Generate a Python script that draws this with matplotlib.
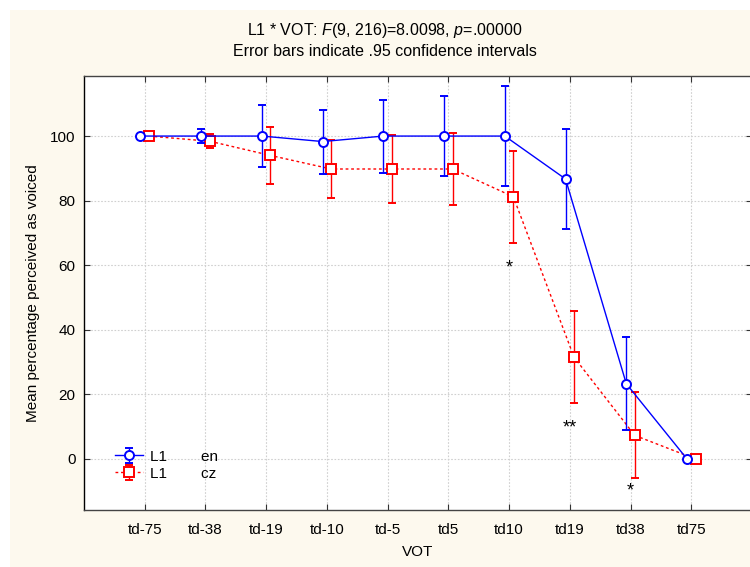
import numpy as np
import matplotlib
matplotlib.use("Agg")
from matplotlib import pyplot as plt
from matplotlib import patches

plt.rcParams['font.family'] = ['Liberation Sans', 'DejaVu Sans']
plt.rcParams['mathtext.fontset'] = 'custom'
plt.rcParams['mathtext.rm'] = 'Liberation Sans'
plt.rcParams['mathtext.it'] = 'Liberation Sans:italic'

# data
vot = ['td-75', 'td-38', 'td-19', 'td-10', 'td-5', 'td5', 'td10', 'td19', 'td38', 'td75']
en_mean = [100, 100, 100, 98.3, 100, 100, 100, 86.7, 23.3, 0]
en_ci = [0, 2.3, 9.5, 9.9, 11.3, 12.3, 15.6, 15.4, 14.4, 0]
cz_mean = [100, 98.4, 94.0, 89.8, 89.8, 89.8, 81.2, 31.5, 7.3, 0]
cz_ci = [0, 2.2, 8.7, 9.0, 10.5, 11.3, 14.2, 14.2, 13.3, 0]

# significance marks
star_idx = [6, 7, 8]
star_txt = ['*', '**', '*']
star_y = [59, 9.5, -10]

bg = '#fdf9ee'

fig = plt.figure(figsize=(7.5, 5.67), dpi=100)
fig.patch.set_facecolor('white')
fig.patches.append(patches.Rectangle((10 / 750, 0), 1, 1 - 10 / 567,
                                     transform=fig.transFigure, facecolor=bg,
                                     edgecolor='none', zorder=-10))

ax = fig.add_axes([84 / 750, 57 / 567, 668 / 750, 434 / 567])
ax.set_facecolor('white')

x = np.arange(len(vot))
off = 0.07

ax.errorbar(x - off, en_mean, yerr=en_ci, color='blue', lw=1, marker='o', ms=6.5,
            mfc='white', mec='blue', mew=1.4, capsize=3, elinewidth=1,
            capthick=1, label='L1        en', zorder=4)
ax.errorbar(x + off, cz_mean, yerr=cz_ci, color='red', lw=1, ls=(0, (2, 2)),
            marker='s', ms=6.5, mfc='white', mec='red', mew=1.4, capsize=3,
            elinewidth=1, capthick=1, label='L1        cz', zorder=3)

for i, t, y in zip(star_idx, star_txt, star_y):
    ax.text(x[i], y, t, ha='center', va='center', fontsize=13)

ax.set_xlim(-1, 10)
ax.set_ylim(-15.8, 118.6)
ax.set_xticks(x)
ax.set_xticklabels(vot)
ax.set_yticks([0, 20, 40, 60, 80, 100])
ax.tick_params(direction='in', length=4, labelsize=11, top=True, right=True,
               color='#333333', pad=9)
ax.tick_params(axis='y', pad=6)
ax.grid(True, color='#d0d0d0', ls=(0, (1.5, 1.5)), lw=0.8)
ax.set_axisbelow(True)
for s in ax.spines.values():
    s.set_linewidth(1)
ax.spines['top'].set_color('#444444')
ax.spines['bottom'].set_color('#444444')

ax.set_xlabel('VOT', fontsize=11, labelpad=6)
ax.set_ylabel('Mean percentage perceived as voiced', fontsize=11, labelpad=7)

leg = ax.legend(loc='lower left', bbox_to_anchor=(0.035, 0.05), frameon=False,
                fontsize=11, handlelength=1.8, handletextpad=0.5,
                labelspacing=0.2, borderpad=0)

fig.text(385 / 750, 1 - 30 / 567,
         r'L1 * VOT: $\it{F}$(9, 216)=8.0098, $\it{p}$=.00000',
         ha='center', va='center', fontsize=11.5)
fig.text(385 / 750, 1 - 51 / 567, 'Error bars indicate .95 confidence intervals',
         ha='center', va='center', fontsize=11.5)

fig.savefig('out.png', dpi=100, facecolor=fig.get_facecolor())
